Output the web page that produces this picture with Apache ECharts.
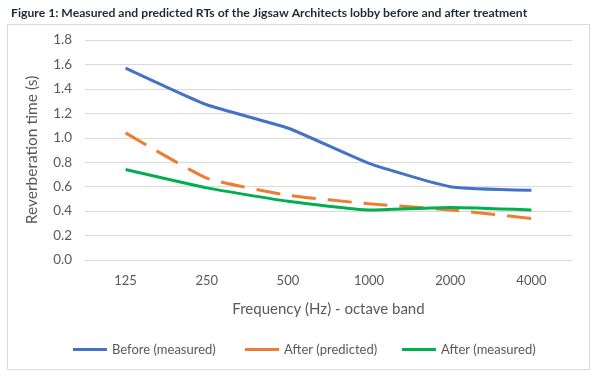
<!DOCTYPE html>
<html><head><meta charset="utf-8">
<script src="https://cdn.jsdelivr.net/npm/echarts@6/dist/echarts.min.js"></script>
<style>html,body{margin:0;padding:0;background:#fff}#c{width:602px;height:380px}</style>
</head><body><div id="c"></div>
<script>
const categories = ['125', '250', '500', '1000', '2000', '4000'];
const beforeMeasured = [1.57, 1.27, 1.08, 0.79, 0.60, 0.57];
const afterPredicted = [1.04, 0.67, 0.53, 0.46, 0.41, 0.34];
const afterMeasured = [0.74, 0.59, 0.48, 0.41, 0.43, 0.41];
const yTicks = { min: 0, max: 1.8, interval: 0.2 };
const titleText = 'Figure 1: Measured and predicted RTs of the Jigsaw Architects lobby before and after treatment';

const font = 'Lato, "Open Sans", sans-serif';
const chart = echarts.init(document.getElementById('c'));
const mk = (name, data, color, dashed) => ({
  name, type: 'line', data, smooth: 0.15, symbol: 'none',
  lineStyle: { color, width: 3, type: dashed ? [24, 12] : 'solid' },
  itemStyle: { color }
});
const legend = (name, left) => ({
  data: [name], left, top: 338, icon: 'rect', itemWidth: 34, itemHeight: 3,
  textStyle: { color: '#595959', fontSize: 13, fontFamily: font }
});
chart.setOption({
  animation: false,
  title: { text: titleText, left: 6, top: 2, textStyle: { fontSize: 12.2, fontWeight: 'bold', color: '#1e2a38', fontFamily: font } },
  graphic: [{ type: 'rect', shape: { x: 7.5, y: 24.5, width: 582, height: 345 }, style: { fill: 'none', stroke: '#d9d9d9', lineWidth: 1 }, silent: true }],
  grid: { left: 85, right: 30, top: 40, bottom: 120 },
  legend: [legend('Before (measured)', 68), legend('After (predicted)', 240), legend('After (measured)', 397)],
  xAxis: {
    type: 'category', data: categories, boundaryGap: true,
    name: 'Frequency (Hz) - octave band', nameLocation: 'middle', nameGap: 42,
    nameTextStyle: { color: '#595959', fontSize: 15, fontFamily: font },
    axisLine: { show: true, lineStyle: { color: '#d9d9d9' } }, axisTick: { show: false },
    axisLabel: { color: '#595959', fontSize: 13, margin: 14, fontFamily: font }
  },
  yAxis: {
    type: 'value', min: yTicks.min, max: yTicks.max, interval: yTicks.interval,
    name: 'Reverberation time (s)', nameLocation: 'middle', nameGap: 45, nameRotate: 90,
    nameTextStyle: { color: '#595959', fontSize: 15.5, fontFamily: font },
    axisLine: { show: false }, axisTick: { show: false },
    splitLine: { lineStyle: { color: '#d9d9d9' } },
    axisLabel: { color: '#595959', fontSize: 13.5, margin: 13, fontFamily: font, formatter: v => v.toFixed(1) }
  },
  series: [
    mk('Before (measured)', beforeMeasured, '#4472C4', false),
    mk('After (predicted)', afterPredicted, '#ED7D31', true),
    mk('After (measured)', afterMeasured, '#00B050', false)
  ]
});
</script></body></html>
